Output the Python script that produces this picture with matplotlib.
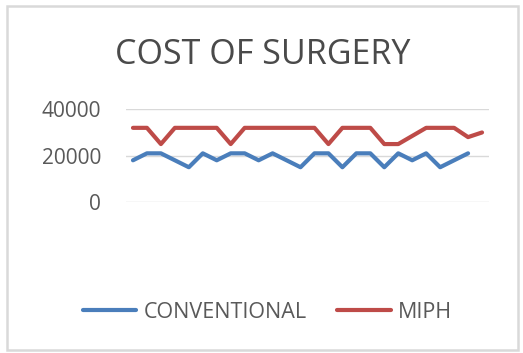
import matplotlib
matplotlib.use("Agg")
import matplotlib.pyplot as plt
from matplotlib.patches import Rectangle
import numpy as np

#====================DATA====================

cases = list(range(1, 27))
conventional = [18000, 21000, 21000, 18000, 15000, 21000, 18000, 21000, 21000, 18000,
                21000, 18000, 15000, 21000, 21000, 15000, 21000, 21000, 15000, 21000,
                18000, 21000, 15000, 18000, 21000]
miph = [32000, 32000, 25000, 32000, 32000, 32000, 32000, 25000, 32000, 32000,
        32000, 32000, 32000, 32000, 25000, 32000, 32000, 32000, 25000, 25000,
        28500, 32000, 32000, 32000, 28000, 30000]
y_ticks = [0, 20000, 40000]

#====================PLOT====================

plt.rcParams["font.family"] = ["Open Sans", "DejaVu Sans"]
text_col = "#595959"

fig = plt.figure(figsize=(5.23, 3.53), dpi=100)
fig.patch.set_facecolor("white")
fig.patches.append(Rectangle((7 / 523, 1 - 350 / 353), 511 / 523, 344 / 353,
                             transform=fig.transFigure, fill=False,
                             edgecolor="#d9d9d9", linewidth=1.8))

ax = fig.add_axes([126 / 523, 1 - 202 / 353, 363 / 523, 92.7 / 353])
ax.plot(cases[:len(conventional)], conventional, color="#4a7ebb", lw=3.0,
        label="CONVENTIONAL", solid_capstyle="round", solid_joinstyle="round")
ax.plot(cases, miph, color="#be4b48", lw=3.0, label="MIPH",
        solid_capstyle="round", solid_joinstyle="round")

ax.set_xlim(0.5, 26.5)
ax.set_ylim(0, 40000)
ax.set_yticks(y_ticks)
ax.set_xticks([])
ax.yaxis.grid(True, color="#d9d9d9", lw=1.0)
ax.set_axisbelow(True)
for s in ax.spines.values():
    s.set_visible(False)
ax.tick_params(axis="y", length=0, pad=18, labelsize=15, labelcolor=text_col)

fig.text(0.503, 0.843, "COST OF SURGERY", ha="center", va="center",
         fontsize=24.5, color="#4a4a4a")

ax.legend(loc="center", bbox_to_anchor=(0.511, 0.116), bbox_transform=fig.transFigure,
          ncol=2, frameon=False, fontsize=15.5, handlelength=2.5, handletextpad=0.33,
          columnspacing=1.4, labelcolor=text_col)

fig.savefig("out.png", dpi=100)
